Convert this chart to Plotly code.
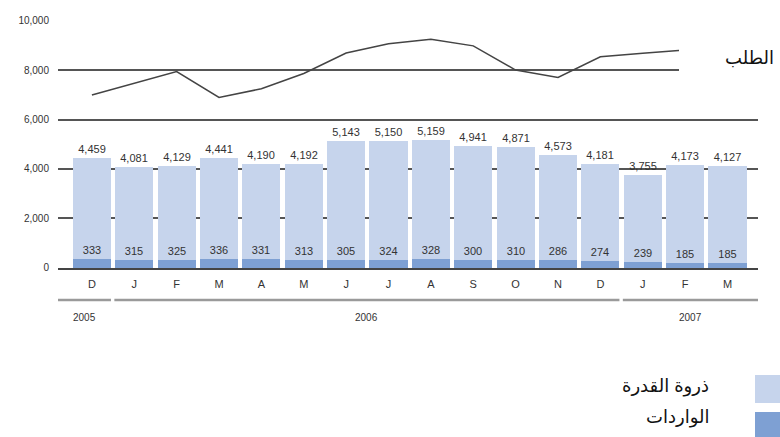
import plotly.graph_objects as go

months = ["D", "J", "F", "M", "A", "M", "J", "J", "A", "S", "O", "N", "D", "J", "F", "M"]
years = ["2005", "2006", "2007"]
year_counts = [1, 12, 3]
peak_capacity = [4459, 4081, 4129, 4441, 4190, 4192, 5143, 5150, 5159, 4941, 4871, 4573, 4181, 3755, 4173, 4127]
imports = [333, 315, 325, 336, 331, 313, 305, 324, 328, 300, 310, 286, 274, 239, 185, 185]
demand = [7000, 7480, 7950, 6900, 7250, 7870, 8700, 9080, 9260, 8990, 8010, 7710, 8550, 8690, 8820, 8950]
ytick_vals = [0, 2000, 4000, 6000, 8000, 10000]
ytick_text = ["0", "2,000", "4,000", "6,000", "8,000", "10,000"]

LIGHT = "#c6d4ec"
DARK = "#7ea0d3"
TXT = "#333333"
FONT = "Liberation Sans Narrow, Arial Narrow, Liberation Sans, sans-serif"
AR_FONT = "Liberation Sans, Arial, DejaVu Sans"

x = list(range(len(months)))

fig = go.Figure()
fig.add_trace(go.Bar(
    x=x, y=peak_capacity, width=0.9, marker=dict(color=LIGHT, line=dict(width=0)),
    text=[f"{v:,}" for v in peak_capacity], textposition="outside",
    textfont=dict(size=11, color=TXT, family=FONT), cliponaxis=False, showlegend=False,
))
fig.add_trace(go.Bar(
    x=x, y=imports, width=0.9, marker=dict(color=DARK, line=dict(width=0)),
    text=[f"{v:,}" for v in imports], textposition="outside",
    textfont=dict(size=11, color=TXT, family=FONT), cliponaxis=False, showlegend=False,
))
fig.add_trace(go.Scatter(
    x=x, y=demand, mode="lines", line=dict(color="#444444", width=1.5), showlegend=False,
))

xmin, xmax = -0.8, 15.72
fig.update_layout(
    width=780, height=437,
    margin=dict(l=58, r=22, t=20, b=169),
    plot_bgcolor="white", paper_bgcolor="white",
    barmode="overlay", bargap=0,
    font=dict(family=FONT, color=TXT),
    xaxis=dict(range=[xmin, xmax], tickvals=x, ticktext=months, showgrid=False,
               zeroline=False, showline=True, linecolor="#444444", linewidth=2,
               ticks="", tickfont=dict(size=11, color=TXT, family="Liberation Sans, Arial"),
               ticklabelstandoff=5),
    yaxis=dict(range=[-20, 10040], tickvals=ytick_vals, ticktext=ytick_text,
               showgrid=True, gridcolor="#555555", gridwidth=2, zeroline=False,
               showline=False, ticks="", tickfont=dict(size=10, color=TXT, family=FONT),
               ticklabelstandoff=8),
)


def px_x(p):
    return (p - 58) / 700


def px_y(p):
    return (268 - p) / 248


# year group lines and labels
start = 0
shapes = []
for yr, n in zip(years, year_counts):
    x0 = start - 0.47 if start > 0 else xmin
    x1 = start + n - 1 + 0.45 if start + n < len(months) else xmax
    shapes.append(dict(type="line", xref="x", yref="paper", x0=x0, x1=x1, y0=px_y(300), y1=px_y(300),
                       line=dict(color="#9a9a9a", width=2.5)))
    fig.add_annotation(x=(x0 + x1) / 2, xref="x", y=px_y(317), yref="paper", yanchor="middle",
                       text=yr, showarrow=False, font=dict(size=10, color=TXT, family=FONT))
    start += n

# white box behind the demand label (hides line end and grid)
shapes.append(dict(type="rect", xref="paper", yref="paper", x0=px_x(679), x1=px_x(781),
                   y0=px_y(100), y1=px_y(28), fillcolor="white", line=dict(width=0), layer="above"))

# legend swatches
shapes.append(dict(type="rect", xref="paper", yref="paper", x0=px_x(755), x1=px_x(781),
                   y0=px_y(403), y1=px_y(375), fillcolor=LIGHT, line=dict(width=0)))
shapes.append(dict(type="rect", xref="paper", yref="paper", x0=px_x(755), x1=px_x(781),
                   y0=px_y(440), y1=px_y(412), fillcolor=DARK, line=dict(width=0)))
fig.update_layout(shapes=shapes)

fig.add_annotation(x=px_x(711), xref="paper", y=px_y(386), yref="paper",
                   text="ذروة القدرة", showarrow=False, xanchor="right", yanchor="middle",
                   font=dict(size=18, color="#111111", family=AR_FONT))
fig.add_annotation(x=px_x(711), xref="paper", y=px_y(417), yref="paper",
                   text="الواردات", showarrow=False, xanchor="right", yanchor="middle",
                   font=dict(size=18, color="#111111", family=AR_FONT))
fig.add_annotation(x=px_x(776), xref="paper", y=px_y(58), yref="paper",
                   text="الطلب", showarrow=False, xanchor="right", yanchor="middle",
                   font=dict(size=18, color="#111111", family=AR_FONT))

fig.write_html("out.html")
